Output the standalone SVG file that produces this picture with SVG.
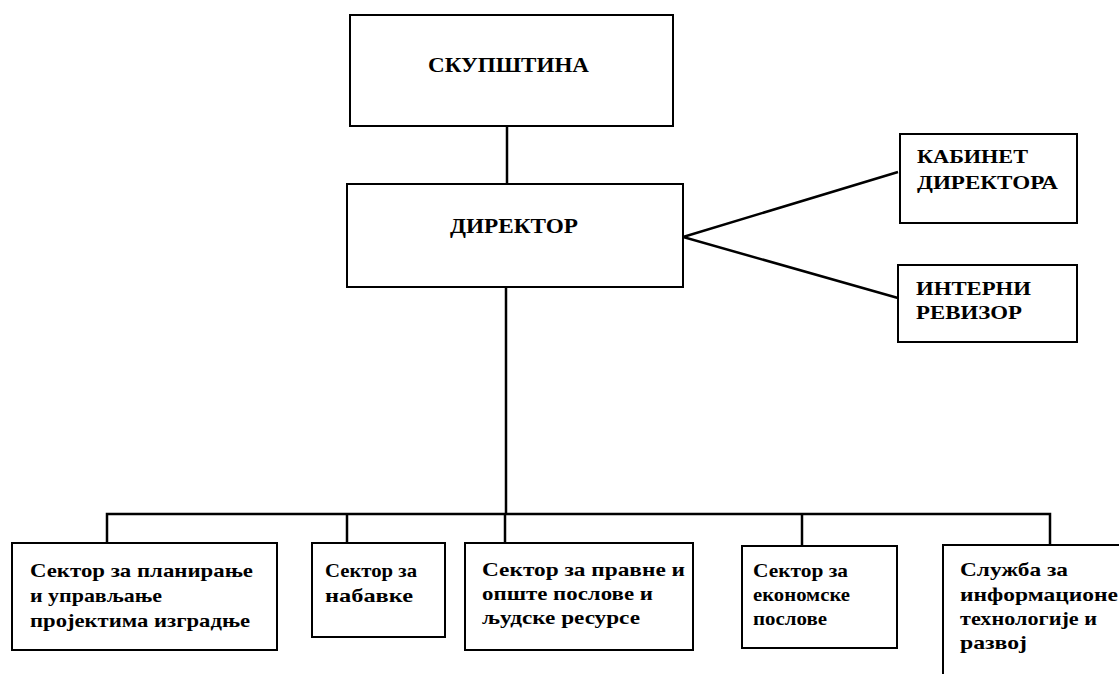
<svg xmlns="http://www.w3.org/2000/svg" width="1119" height="674" viewBox="0 0 1119 674">
<style>
.box{fill:#fff;stroke:#000;stroke-width:2}
.ln{fill:none;stroke:#000;stroke-width:2.5}
text{font-weight:bold;font-size:19px;fill:#000}
.h{font-size:20px}
</style>
<rect width="1119" height="674" fill="#fff"/>
<g id="connectors">
<line class="ln" x1="507" y1="125" x2="507" y2="184"/>
<line class="ln" x1="506" y1="287" x2="506" y2="514"/>
<polyline class="ln" points="898,172 683,237 898,298"/>
<polyline class="ln" points="107,543 107,514 1050,514 1050,545"/>
<line class="ln" x1="347" y1="514" x2="347" y2="543"/>
<line class="ln" x1="505" y1="514" x2="505" y2="543"/>
<line class="ln" x1="802" y1="514" x2="802" y2="546"/>
</g>
<g font-family="Liberation Serif, DejaVu Serif, serif">
<g id="skupstina">
<rect class="box" x="350" y="15" width="323" height="111"/>
<text class="h" x="428" y="72" textLength="161" lengthAdjust="spacingAndGlyphs">СКУПШТИНА</text>
</g>
<g id="direktor">
<rect class="box" x="347" y="184" width="336" height="103"/>
<text class="h" x="450" y="233" textLength="128" lengthAdjust="spacingAndGlyphs">ДИРЕКТОР</text>
</g>
<g id="kabinet">
<rect class="box" x="900" y="134" width="177" height="89"/>
<text x="917" y="163" textLength="111" lengthAdjust="spacingAndGlyphs">КАБИНЕТ</text>
<text x="917" y="189" textLength="141" lengthAdjust="spacingAndGlyphs">ДИРЕКТОРА</text>
</g>
<g id="revizor">
<rect class="box" x="898" y="265" width="179" height="77"/>
<text x="916" y="295" textLength="115" lengthAdjust="spacingAndGlyphs">ИНТЕРНИ</text>
<text x="916" y="319" textLength="106" lengthAdjust="spacingAndGlyphs">РЕВИЗОР</text>
</g>
<g id="sektor-planiranje">
<rect class="box" x="12" y="543" width="265" height="107"/>
<text x="30" y="577" textLength="223" lengthAdjust="spacingAndGlyphs">Сектор за планирање</text>
<text x="30" y="602" textLength="132" lengthAdjust="spacingAndGlyphs">и управљање</text>
<text x="30" y="627" textLength="220" lengthAdjust="spacingAndGlyphs">пројектима изградње</text>
</g>
<g id="sektor-nabavke">
<rect class="box" x="312" y="543" width="133" height="94"/>
<text x="325" y="577" textLength="92" lengthAdjust="spacingAndGlyphs">Сектор за</text>
<text x="325" y="602" textLength="88" lengthAdjust="spacingAndGlyphs">набавке</text>
</g>
<g id="sektor-pravni">
<rect class="box" x="465" y="543" width="228" height="107"/>
<text x="482" y="576" textLength="203" lengthAdjust="spacingAndGlyphs">Сектор за правне и</text>
<text x="482" y="600" textLength="171" lengthAdjust="spacingAndGlyphs">опште послове и</text>
<text x="482" y="624" textLength="158" lengthAdjust="spacingAndGlyphs">људске ресурсе</text>
</g>
<g id="sektor-ekonomski">
<rect class="box" x="742" y="546" width="155" height="102"/>
<text x="753" y="577" textLength="95" lengthAdjust="spacingAndGlyphs">Сектор за</text>
<text x="753" y="601" textLength="97" lengthAdjust="spacingAndGlyphs">економске</text>
<text x="753" y="625" textLength="74" lengthAdjust="spacingAndGlyphs">послове</text>
</g>
<g id="sluzba-it">
<polyline class="ln" points="943,676 943,545 1121,545" style="stroke-width:2"/>
<text x="960" y="576" textLength="108" lengthAdjust="spacingAndGlyphs">Служба за</text>
<text x="960" y="601" textLength="158" lengthAdjust="spacingAndGlyphs">информационе</text>
<text x="960" y="625" textLength="137" lengthAdjust="spacingAndGlyphs">технологије и</text>
<text x="960" y="649" textLength="67" lengthAdjust="spacingAndGlyphs">развој</text>
</g>
</g>
</svg>
